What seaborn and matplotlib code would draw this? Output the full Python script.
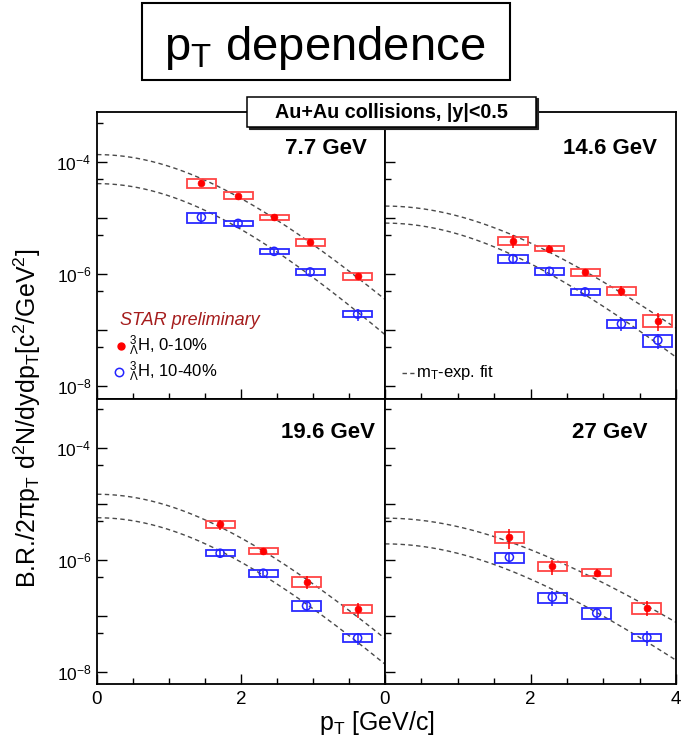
import numpy as np
import pandas as pd
import matplotlib
matplotlib.use("Agg")
import matplotlib.pyplot as plt
import seaborn as sns
from matplotlib import font_manager
from matplotlib.patches import Rectangle
from matplotlib.ticker import LogLocator, MultipleLocator, FuncFormatter, FixedLocator

# ---------------- data ----------------
energies = ["7.7 GeV", "14.6 GeV", "19.6 GeV", "27 GeV"]
centralities = ["0-10%", "10-40%"]

pt_7p7 = [1.45, 1.96, 2.46, 2.96, 3.62]
y_7p7_c = [4.2e-5, 2.5e-5, 1.02e-5, 3.7e-6, 9.1e-7]
y_7p7_p = [1.03e-5, 8.0e-6, 2.54e-6, 1.09e-6, 1.93e-7]
stat_7p7_c = [0.12, 0.08, 0.08, 0.10, 0.12]
stat_7p7_p = [0.25, 0.10, 0.10, 0.10, 0.25]
syst_7p7_c = [0.17, 0.14, 0.11, 0.14, 0.14]
syst_7p7_p = [0.20, 0.11, 0.11, 0.12, 0.12]

pt_14p6 = [1.76, 2.26, 2.75, 3.25, 3.75]
y_14p6_c = [3.9e-6, 2.84e-6, 1.07e-6, 5.0e-7, 1.48e-7]
y_14p6_p = [1.88e-6, 1.12e-6, 4.8e-7, 1.29e-7, 6.6e-8]
stat_14p6_c = [0.25, 0.15, 0.15, 0.20, 0.35]
stat_14p6_p = [0.20, 0.10, 0.12, 0.25, 0.30]
syst_14p6_c = [0.17, 0.11, 0.13, 0.17, 0.24]
syst_14p6_p = [0.18, 0.13, 0.13, 0.17, 0.23]

pt_19p6 = [1.71, 2.31, 2.91, 3.62]
y_19p6_c = [4.36e-6, 1.44e-6, 4.1e-7, 1.33e-7]
y_19p6_p = [1.32e-6, 5.8e-7, 1.51e-7, 4.0e-8]
stat_19p6_c = [0.20, 0.15, 0.25, 0.30]
stat_19p6_p = [0.15, 0.10, 0.20, 0.25]
syst_19p6_c = [0.14, 0.12, 0.19, 0.17]
syst_19p6_p = [0.12, 0.15, 0.20, 0.16]

pt_27 = [1.71, 2.30, 2.91, 3.60]
y_27_c = [2.57e-6, 7.8e-7, 5.95e-7, 1.41e-7]
y_27_p = [1.12e-6, 2.16e-7, 1.12e-7, 4.1e-8]
stat_27_c = [0.40, 0.30, 0.15, 0.30]
stat_27_p = [0.20, 0.30, 0.20, 0.30]
syst_27_c = [0.22, 0.19, 0.14, 0.22]
syst_27_p = [0.20, 0.20, 0.21, 0.15]

# m_T-exponential fit parameters: dN ~ A * exp(-(m_T - m)/T)
fit_A_c = [1.35e-4, 1.63e-5, 1.5e-5, 5.6e-6]
fit_T_c = [0.337, 0.40, 0.337, 0.467]
fit_A_p = [4.1e-5, 8.1e-6, 5.7e-6, 1.94e-6]
fit_T_p = [0.323, 0.364, 0.332, 0.418]
hypertriton_mass = 2.991

x_ticks = [0, 2, 4]
y_label_exponents = [-4, -6, -8]

# ---------------- tidy table ----------------
rows = []
series = [
    (energies[0], pt_7p7, y_7p7_c, stat_7p7_c, syst_7p7_c, y_7p7_p, stat_7p7_p, syst_7p7_p),
    (energies[1], pt_14p6, y_14p6_c, stat_14p6_c, syst_14p6_c, y_14p6_p, stat_14p6_p, syst_14p6_p),
    (energies[2], pt_19p6, y_19p6_c, stat_19p6_c, syst_19p6_c, y_19p6_p, stat_19p6_p, syst_19p6_p),
    (energies[3], pt_27, y_27_c, stat_27_c, syst_27_c, y_27_p, stat_27_p, syst_27_p),
]
for e, pt, yc, stc, syc, yp, stp, syp in series:
    for i in range(len(pt)):
        rows.append(dict(energy=e, cent=centralities[0], pt=pt[i], y=yc[i], stat=stc[i], syst=syc[i]))
        rows.append(dict(energy=e, cent=centralities[1], pt=pt[i], y=yp[i], stat=stp[i], syst=syp[i]))
df = pd.DataFrame(rows)

# ---------------- style ----------------
sns.set_theme(style="ticks")
plt.rcParams["font.family"] = ["Liberation Sans", "DejaVu Sans"]
plt.rcParams["mathtext.fontset"] = "custom"
plt.rcParams["mathtext.rm"] = "Liberation Sans"
plt.rcParams["mathtext.it"] = "Liberation Sans:italic"
plt.rcParams["mathtext.bf"] = "Liberation Sans:bold"
plt.rcParams["mathtext.sf"] = "Liberation Sans"
plt.rcParams["text.color"] = "black"
plt.rcParams["axes.labelcolor"] = "black"

installed = {f.name for f in font_manager.fontManager.ttflist}
HAS_NARROW = "Liberation Sans Narrow" in installed

RED = "#ff0000"
RED_BOX = "#ff4444"
BLUE = "#2323ff"
BLUE_BOX = "#2a2aff"
FIT = "#4a4a4a"
STAR_RED = "#a51c1c"

W, H = 692, 750
fig = plt.figure(figsize=(W / 100, H / 100), dpi=100)


def rect(x0, x1, y0, y1):
    return [x0 / W, 1 - y1 / H, (x1 - x0) / W, (y1 - y0) / H]


ymid = 398.5
positions = [rect(97, 385, 112, ymid), rect(385, 676, 112, ymid),
             rect(97, 385, ymid, 684), rect(385, 676, ymid, 684)]
label_pos = [(367, 149), (657, 148), (375, 433), (647, 433)]

fitA = {centralities[0]: fit_A_c, centralities[1]: fit_A_p}
fitT = {centralities[0]: fit_T_c, centralities[1]: fit_T_p}
pt_grid = np.linspace(0, 4, 300)

axes = []
for k, e in enumerate(energies):
    ax = fig.add_axes(positions[k])
    axes.append(ax)
    ax.set_yscale("log")
    ax.set_xlim(0, 4)
    ax.set_ylim(10 ** -8.22, 10 ** -3.11)

    # fit curves
    for c in centralities:
        mt = np.sqrt(pt_grid ** 2 + hypertriton_mass ** 2) - hypertriton_mass
        fit = fitA[c][k] * np.exp(-mt / fitT[c][k])
        sns.lineplot(x=pt_grid, y=fit, ax=ax, color=FIT, lw=1.0,
                     linestyle=(0, (3.2, 2.4)), zorder=2)

    sub = df[df.energy == e]
    for c, col, bcol in [(centralities[0], RED, RED_BOX), (centralities[1], BLUE, BLUE_BOX)]:
        s = sub[sub.cent == c]
        for _, r in s.iterrows():
            ax.add_patch(Rectangle((r.pt - 0.2, r.y * (1 - r.syst)), 0.4, 2 * r.y * r.syst,
                                   fill=False, edgecolor=bcol, lw=1.3, zorder=3))
        ax.errorbar(s.pt, s.y, yerr=[s.y * s.stat, s.y * s.stat], fmt="none",
                    ecolor=col, elinewidth=1.1, capsize=0, zorder=4)
    sc = sub[sub.cent == centralities[0]]
    sp = sub[sub.cent == centralities[1]]
    sns.scatterplot(data=sc, x="pt", y="y", ax=ax, color=RED, s=24,
                    edgecolor=RED, linewidth=0.5, zorder=6, legend=False)
    sns.scatterplot(data=sp, x="pt", y="y", ax=ax, facecolor="none", s=34,
                    edgecolor=BLUE, linewidth=1.1, zorder=6, legend=False)

    # ticks
    ax.yaxis.set_major_locator(LogLocator(base=10, numticks=20))
    ax.yaxis.set_minor_locator(LogLocator(base=10, subs=[5.0], numticks=20))
    ax.xaxis.set_major_locator(FixedLocator(x_ticks))
    ax.xaxis.set_minor_locator(MultipleLocator(0.5))
    ax.tick_params(which="both", direction="in", top=False, right=False,
                   colors="black", width=1.0)
    ax.tick_params(which="major", length=7)
    ax.tick_params(which="minor", length=4)
    ax.tick_params(axis="y", labelsize=12.5, pad=4)
    ax.tick_params(axis="x", labelsize=13.5, pad=5)

    def yfmt(v, pos):
        ex = int(round(np.log10(v)))
        return f"$10^{{{ex}}}$" if ex in y_label_exponents else ""
    ax.yaxis.set_major_formatter(FuncFormatter(yfmt))
    ax.yaxis.set_minor_formatter(FuncFormatter(lambda v, p: ""))

    if k in (1, 3):
        ax.tick_params(axis="y", labelleft=False)
    if k in (0, 1):
        ax.tick_params(axis="x", labelbottom=False)
    if k == 2:
        ax.set_xticklabels([str(t) if t < 4 else "" for t in x_ticks])
    ax.set_xlabel("")
    ax.set_ylabel("")
    for sp_ in ax.spines.values():
        sp_.set_visible(True)
        sp_.set_linewidth(1.3)
        sp_.set_color("black")

    lx, ly = label_pos[k]
    fig.text(lx / W, 1 - ly / H, e, ha="right", va="center",
             fontsize=16, fontweight="bold")

# legend in first panel
ax0 = axes[0]
def afrac(px, py):
    return ((px - 97) / 288, (ymid - py) / (ymid - 112))

ax0.text(*afrac(119.5, 320.7), "STAR preliminary", transform=ax0.transAxes,
         ha="left", va="center", fontsize=13, style="italic", color=STAR_RED)
ax0.plot(*afrac(120.5, 346), transform=ax0.transAxes, marker="o", ms=5,
         color=RED, ls="none")
ax0.text(*afrac(129, 346), r"$^{3}_{\Lambda}$H, 0-10%", transform=ax0.transAxes,
         ha="left", va="center", fontsize=12)
ax0.plot(*afrac(118.5, 371.5), transform=ax0.transAxes, marker="o", ms=6,
         mfc="none", mec=BLUE, mew=1.1, ls="none")
ax0.text(*afrac(129, 371.5), r"$^{3}_{\Lambda}$H, 10-40%", transform=ax0.transAxes,
         ha="left", va="center", fontsize=12)

# fit legend in second panel
ax1 = axes[1]
def afrac1(px, py):
    return ((px - 385) / 291, (ymid - py) / (ymid - 112))
x0_, y0_ = afrac1(401.5, 372.7)
x1_, _ = afrac1(413.5, 372.7)
ax1.plot([x0_, x1_], [y0_, y0_], transform=ax1.transAxes, color=FIT, lw=1.0,
         linestyle=(0, (3.2, 2.4)))
ax1.text(*afrac1(416, 373), r"m$_\mathrm{T}$-exp. fit", transform=ax1.transAxes,
         ha="left", va="center", fontsize=12)

# axis titles
ylab = "B.R./2\u03c0p$_\\mathrm{T}$ d$^2$N/dydp$_\\mathrm{T}$[c$^2$/GeV$^2$]"
if HAS_NARROW:
    fig.text(27 / W, 1 - 418 / H, ylab, rotation=90, ha="center", va="center",
             fontsize=21, family=["Liberation Sans Narrow", "Liberation Sans"])
else:
    fig.text(27 / W, 1 - 418 / H, ylab, rotation=90, ha="center", va="center",
             fontsize=18)
fig.text(377 / W, 1 - 723 / H, r"p$_\mathrm{T}$ [GeV/c]", ha="center", va="center",
         fontsize=18)

# header boxes
fig.add_artist(Rectangle((142 / W, 1 - 80 / H), (510 - 142) / W, 77 / H,
                         transform=fig.transFigure, fill=True, facecolor="white",
                         edgecolor="black", lw=1.5, zorder=10))
fig.text(325 / W, 1 - 60 / H, r"p$_\mathrm{T}$ dependence", ha="center", va="baseline",
         fontsize=34, zorder=11)

fig.add_artist(Rectangle((248.5 / W, 1 - 128.5 / H), (536 - 247) / W, 31 / H,
                         transform=fig.transFigure, facecolor="#222222",
                         edgecolor="#222222", lw=0.8, zorder=10))
fig.add_artist(Rectangle((247 / W, 1 - 127 / H), (536 - 247) / W, 30 / H,
                         transform=fig.transFigure, facecolor="white",
                         edgecolor="black", lw=1.1, zorder=10))
fig.text(391.5 / W, 1 - 112 / H, "Au+Au collisions, |y|<0.5", ha="center",
         va="center", fontsize=14.2, fontweight="bold", zorder=11)

fig.savefig("out.png", dpi=100)
